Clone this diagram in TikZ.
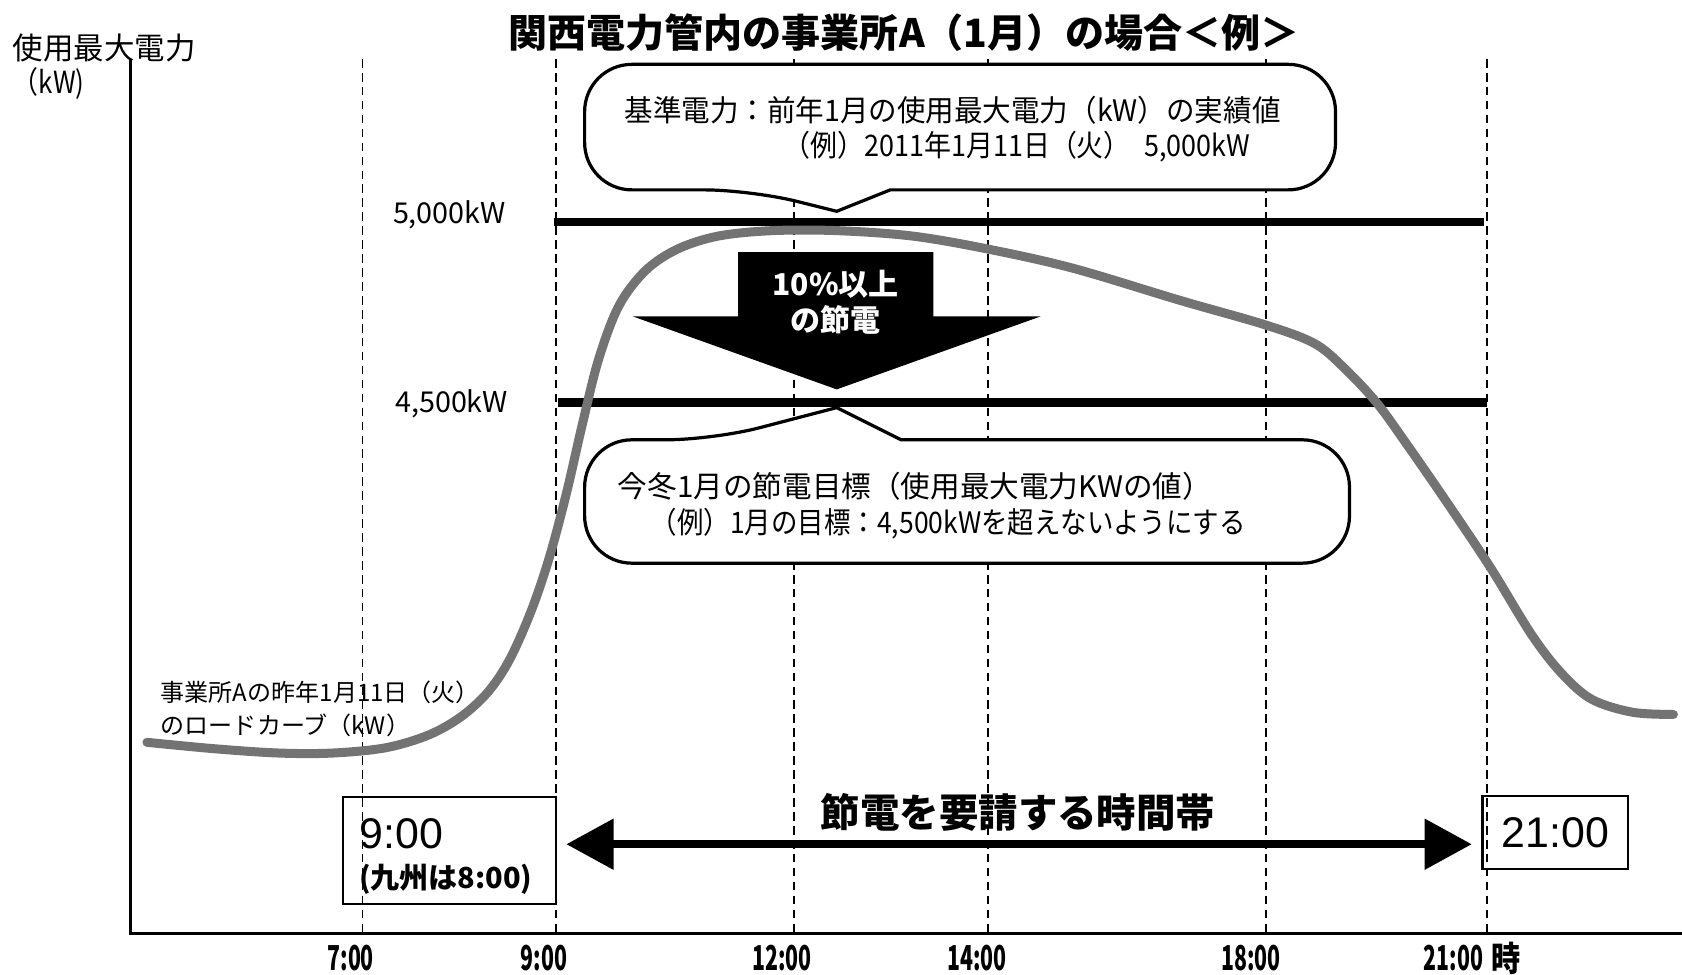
\documentclass[tikz,border=0pt]{standalone}
\usepackage{fontspec}
\setmainfont{Noto Sans CJK JP}
\newfontfamily\lsans{Liberation Sans}
\usetikzlibrary{arrows.meta}
\newcommand\fsz[1]{\fontsize{#1}{#1}\selectfont}
\begin{document}
\begin{tikzpicture}[x=0.5pt,y=-0.5pt,
  every node/.style={inner sep=0pt,outer sep=0pt},
  guide/.style={line width=0.8pt,dash pattern=on 4pt off 2.5pt},
  axis/.style={line width=1.5pt},
  level/.style={line width=4pt},
  bubble/.style={draw,fill=white,line width=1.5pt,line join=round},
  load/.style={line width=4.2pt,color=black!55,line cap=round},
  boxed/.style={draw,line width=1pt},
  ticklab/.style={font=\fsz{16}\bfseries},
  lvllab/.style={font=\fsz{13.4}},
  bubtext/.style={font=\fsz{13.8}},
  cutarrow/.style={fill=black},
  band/.style={line width=3.5pt,{Triangle[length=22pt,width=23pt]}-{Triangle[length=22pt,width=23pt]}}
]
\useasboundingbox (0,0) rectangle (1568,908);

% guides
\foreach \gx in {338,518,740,921,1180,1386}
  \draw[guide] (\gx,55) -- (\gx,870);

% axes
\draw[axis] (122,55) -- (122,870) -- (1568,870);

% title and axis title
\node (title) at (843,30) {\fsz{18.2}\bfseries 関西電力管内の事業所A（1月）の場合＜例＞};
\node[anchor=west] (ytitle) at (12,45) {\fsz{14.2}使用最大電力};
\node[anchor=west] (yunit) at (12,78) {\fsz{14.2}\scalebox{0.85}[1]{（kW)}};

% callout 1
\draw[bubble] (780,197) -- (830,177) [rounded corners=22] -- (1245,177) -- (1245,60) -- (545,60) -- (545,177) -- (700,177) [sharp corners] -- cycle;
\node[bubtext] (c1a) at (888,103) {\scalebox{0.964}[1]{基準電力：前年1月の使用最大電力（kW）の実績値}};
\node[bubtext] (c1b) at (948,137) {\scalebox{0.91}[1]{（例）2011年1月11日（火）\enspace 5,000kW}};

% callout 2
\draw[bubble] (780,380) -- (840,410) [rounded corners=22] -- (1258,410) -- (1258,525) -- (545,525) -- (545,410) -- (665,410) [sharp corners] -- cycle;
\node[bubtext] (c2a) at (853,453) {今冬1月の節電目標（使用最大電力KWの値）};
\node[bubtext] (c2b) at (884,488) {\scalebox{0.894}[1]{（例）1月の目標：4,500kWを超えないようにする}};

% levels
\draw[level] (516,207) -- (1383,207);
\draw[level] (520,375) -- (1386,375);
\node[lvllab] (l5000) at (419,200) {5,000kW};
\node[lvllab] (l4500) at (421,376) {4,500kW};

% load curve
\draw[load] plot[smooth,tension=0.55] coordinates {
 (137,692) (200,698) (260,702) (310,702) (360,697) (400,685) (430,668)
 (455,645) (475,615) (495,570) (512,520) (528,460) (543,395) (558,335)
 (577,285) (602,252) (632,232) (670,220) (720,215) (780,215) (850,220)
 (920,232) (1000,250) (1100,280) (1180,303) (1225,320) (1252,342)
 (1283,375) (1312,415) (1350,470) (1390,530) (1428,592) (1456,628)
 (1484,652) (1522,664) (1560,666)};
\node[anchor=west] (cl1) at (150,645) {\fsz{11.2}事業所Aの昨年1月11日（火）};
\node[anchor=west] (cl2) at (150,676) {\fsz{11.2}のロードカーブ（kW）};

% saving arrow
\path[cutarrow] (688,235) -- (870,235) -- (870,295) -- (970,295) -- (780,363) -- (590,295) -- (688,295) -- cycle;
\node[text=white] (cut1) at (779,265) {\fsz{14}\bfseries 10\%以上};
\node[text=white] (cut2) at (779,298) {\fsz{14}\bfseries の節電};

% time boxes
\node[boxed,minimum width=99pt,minimum height=50pt] (box9) at (419,793) {};
\node[anchor=west] (t9) at (335,777) {\lsans\fsz{20}9:00};
\node[anchor=west] (t9k) at (335,820) {\fsz{13.5}\bfseries (九州は8:00)};
\node[boxed,minimum width=68pt,minimum height=34pt] (box21) at (1450,776) {\lsans\fsz{20}21:00};

% request band
\coordinate (ba) at (528,787);
\coordinate (bb) at (1372,787);
\draw[band] (ba) -- (bb);
\node (bandlab) at (949,757) {\fsz{18.4}\bfseries 節電を要請する時間帯};

% x labels
\node[ticklab] (x7) at (327,893) {\scalebox{0.62}[1]{7:00}};
\node[ticklab] (x9) at (507,893) {\scalebox{0.62}[1]{9:00}};
\node[ticklab] (x12) at (729,893) {\scalebox{0.62}[1]{12:00}};
\node[ticklab] (x14) at (911,893) {\scalebox{0.62}[1]{14:00}};
\node[ticklab] (x18) at (1166,893) {\scalebox{0.62}[1]{18:00}};
\node[ticklab] (x21) at (1355,893) {\scalebox{0.62}[1]{21:00}};
\node[ticklab] (xunit) at (1404,893) {\scalebox{0.85}[1]{時}};
\end{tikzpicture}
\end{document}
